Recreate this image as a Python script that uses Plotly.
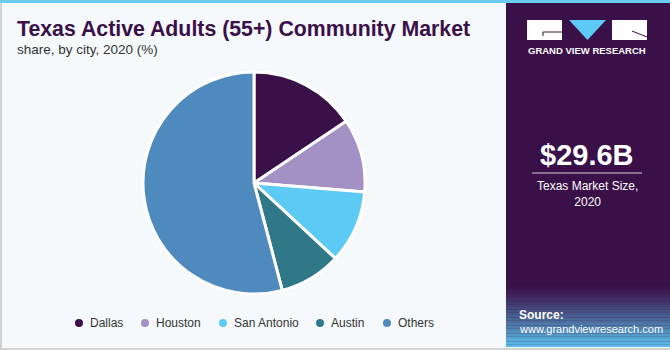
import plotly.graph_objects as go

cities = ["Dallas", "Houston", "San Antonio", "Austin", "Others"]
shares = [15.6, 10.7, 10.6, 9.0, 54.1]
colors = ["#3a1048", "#a390c4", "#5ccaf5", "#307888", "#4e8abd"]
market_size = "$29.6B"
market_label = "Texas Market Size,<br>2020"

W, H = 670, 350
def px(x): return x / W
def py(y): return 1 - y / H

fig = go.Figure()
fig.add_trace(go.Pie(
    labels=cities, values=shares, sort=False, direction="clockwise", rotation=0,
    marker=dict(colors=colors, line=dict(color="white", width=3)),
    textinfo="none", hoverinfo="label+percent", showlegend=False,
    domain=dict(x=[px(143), px(365)], y=[py(294), py(72)]),
))

shapes = []
shapes.append(dict(type="rect", xref="paper", yref="paper", x0=0, x1=px(505), y0=0, y1=1,
                   fillcolor="#f5f9fc", line=dict(width=0), layer="below"))
shapes.append(dict(type="rect", xref="paper", yref="paper", x0=px(506), x1=1, y0=py(347), y1=1,
                   fillcolor="#3a1048", line=dict(width=0), layer="below"))
# gradient source area
n = 24
c0 = (58, 16, 72); c1 = (92, 190, 232)
y_top, y_bot = 283, 347
for i in range(n):
    t = (i / (n - 1)) ** 1.2
    c = tuple(int(c0[k] + (c1[k] - c0[k]) * t) for k in range(3))
    ya = y_top + (y_bot - y_top) * i / n
    yb = y_top + (y_bot - y_top) * (i + 1) / n
    shapes.append(dict(type="rect", xref="paper", yref="paper", x0=px(506), x1=1,
                       y0=py(yb), y1=py(ya), fillcolor="rgb(%d,%d,%d)" % c,
                       line=dict(width=0), layer="below"))
shapes.append(dict(type="rect", xref="paper", yref="paper", x0=0, x1=1, y0=py(3), y1=1,
                   fillcolor="#6ccbf0", line=dict(width=0)))
shapes.append(dict(type="rect", xref="paper", yref="paper", x0=0, x1=px(2), y0=0, y1=py(3),
                   fillcolor="#cfd3d6", line=dict(width=0)))
shapes.append(dict(type="rect", xref="paper", yref="paper", x0=0, x1=1, y0=0, y1=py(348),
                   fillcolor="#cfd3d6", line=dict(width=0)))
# logo
shapes.append(dict(type="rect", xref="paper", yref="paper", x0=px(527), x1=px(562), y0=py(40), y1=py(20),
                   fillcolor="white", line=dict(width=0)))
shapes.append(dict(type="path", xref="paper", yref="paper",
                   path="M %f,%f L %f,%f L %f,%f Z" % (px(569), py(20), px(606), py(20), px(587.5), py(40)),
                   fillcolor="#5ccaf5", line=dict(width=0)))
shapes.append(dict(type="rect", xref="paper", yref="paper", x0=px(612), x1=px(647), y0=py(40), y1=py(20),
                   fillcolor="white", line=dict(width=0)))
shapes.append(dict(type="line", xref="paper", yref="paper", x0=px(543), x1=px(562), y0=py(32), y1=py(32),
                   line=dict(color="#3a1048", width=1)))
shapes.append(dict(type="line", xref="paper", yref="paper", x0=px(543), x1=px(543), y0=py(32), y1=py(36),
                   line=dict(color="#3a1048", width=1)))
shapes.append(dict(type="line", xref="paper", yref="paper", x0=px(632), x1=px(647), y0=py(31), y1=py(37),
                   line=dict(color="#3a1048", width=1)))
shapes.append(dict(type="line", xref="paper", yref="paper", x0=px(532), x1=px(642), y0=py(173), y1=py(173),
                   line=dict(color="#d8cfe0", width=1)))

annotations = []
def txt(x, y, s, size, color, bold=False, xanchor="left", family="Liberation Sans"):
    annotations.append(dict(x=px(x), y=py(y), xref="paper", yref="paper", text=("<b>%s</b>" % s) if bold else s,
                            showarrow=False, xanchor=xanchor, yanchor="middle",
                            font=dict(size=size, color=color, family=family)))

txt(15, 29, "Texas Active Adults (55+) Community Market", 21.3, "#3a1048", bold=True)
txt(15, 49, "share, by city, 2020 (%)", 13.5, "#333333")
txt(587, 51, "GRAND VIEW RESEARCH", 9.5, "white", bold=True, xanchor="center")
txt(587, 155, market_size, 29, "white", bold=True, xanchor="center")
annotations.append(dict(x=px(587), y=py(194), xref="paper", yref="paper", text=market_label,
                        showarrow=False, xanchor="center", yanchor="middle",
                        font=dict(size=12, color="white", family="Liberation Sans")))
txt(517, 315, "Source:", 12, "white", bold=True)
txt(517, 329, "www.grandviewresearch.com", 11, "white")

leg_x = [79, 145, 223, 320, 387]
leg_y = 323
for name, col, x in zip(cities, colors, leg_x):
    shapes.append(dict(type="circle", xref="paper", yref="paper",
                       x0=px(x - 4), x1=px(x + 4), y0=py(leg_y + 4), y1=py(leg_y - 4),
                       fillcolor=col, line=dict(width=0)))
    txt(x + 9, leg_y, name, 12, "#333333")

fig.update_layout(
    width=W, height=H, margin=dict(l=0, r=0, t=0, b=0),
    paper_bgcolor="#f5f9fc", plot_bgcolor="#f5f9fc",
    shapes=shapes, annotations=annotations, showlegend=False,
)
fig.write_html("out.html")
